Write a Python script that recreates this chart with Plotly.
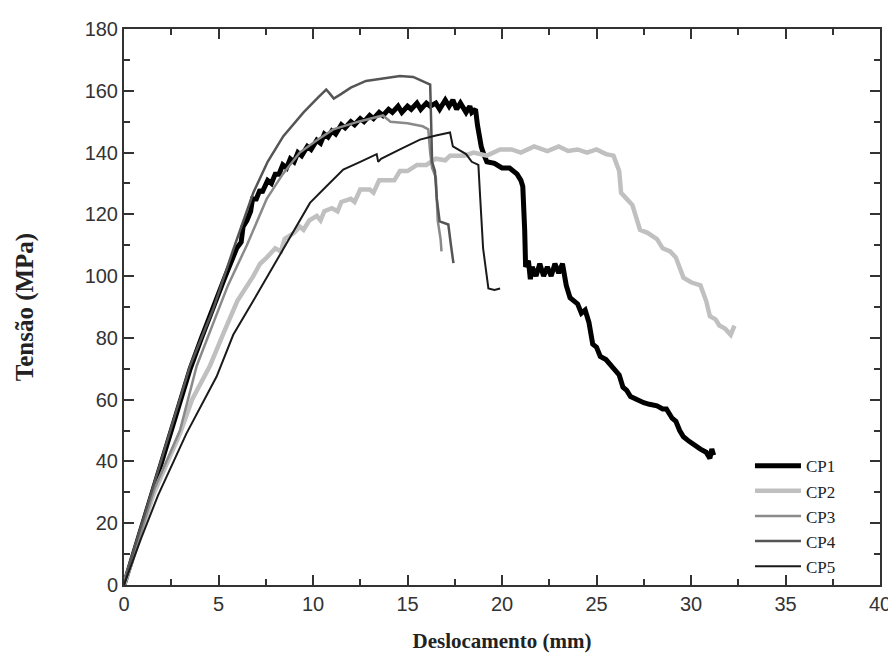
import plotly.graph_objects as go

# (displacement mm, stress MPa)
cp1 = [(0,0),(0.3,6),(0.8,16),(1.5,30),(2.4,49),(3.0,60),(3.5,70),(4.1,80),(4.7,89),(5.3,99),
       (5.96,109),(6.2,111),(6.3,116),(6.5,118),(6.7,121),(6.8,125),(7.0,125),(7.2,128),(7.3,127),
       (7.6,131),(7.8,130),(8.0,133),(8.2,133),(8.4,136),(8.6,135),(8.8,138),(9.0,137),(9.2,140),
       (9.4,139),(9.7,142),(9.9,141),(10.2,144),(10.4,143),(10.6,146),(10.8,145),(11.0,147),
       (11.2,146),(11.5,149),(11.7,148),(12.0,150),(12.2,149),(12.5,151),(12.7,150),(13.0,152),
       (13.2,151),(13.5,153),(13.7,152),(14.0,154),(14.2,153),(14.5,155),(14.7,153),(15.0,155),
       (15.2,154),(15.5,156),(15.7,154),(16.0,156),(16.2,155),(16.5,156),(16.7,154),(17.0,157),
       (17.2,155),(17.4,157),(17.6,154),(17.8,156),(18.1,153),(18.3,155),(18.4,153),(18.6,154),
       (18.7,149),(18.8,145),(18.9,142),(19.0,140),(19.2,137),(19.6,136.5),(20.0,135),(20.4,135),
       (20.8,133),(21.0,131),(21.1,129),(21.2,115),(21.25,103),(21.4,105),(21.5,99),(21.6,103),
       (21.8,100),(22.0,104),(22.2,100),(22.4,103),(22.6,100),(22.8,104),(23.0,101),(23.2,104),
       (23.4,97),(23.6,93),(23.8,92),(24.0,91),(24.2,88),(24.4,89),(24.6,85),(24.8,78),(25.0,77),
       (25.2,74),(25.5,73),(25.9,70),(26.2,68),(26.4,64),(26.6,63),(26.8,61),(27.1,60),(27.5,59),
       (27.8,58.5),(28.2,58),(28.5,57),(28.7,57),(29.0,54),(29.2,53),(29.4,50),(29.6,48),
       (29.9,46.5),(30.2,45),(30.5,44),(30.8,43),(31.0,41),(31.1,44),(31.2,42)]

cp2 = [(0,0),(0.3,6),(0.9,17),(1.6,30),(2.96,49),(3.6,60),(4.55,71),(5.3,82),(6.0,92),(6.84,100),
       (7.2,104),(7.55,106),(8.0,109),(8.3,108),(8.5,112),(9.0,114),(9.3,116),(9.5,115),(9.8,118),
       (10.2,119.5),(10.4,118),(10.6,121),(11.0,122),(11.3,121),(11.5,124),(12.0,125),(12.2,124),
       (12.5,128),(13.0,128),(13.2,127),(13.5,131),(14.0,131),(14.3,131),(14.6,134),(15.0,134),
       (15.5,136),(16.0,136),(16.5,138),(17.0,137.5),(17.25,139),(18.0,139),(18.5,140),(19.2,139),
       (19.9,141),(20.5,141),(21.0,140),(21.7,142),(22.4,140.5),(23.0,142),(23.5,140.5),(24.0,141),
       (24.5,140),(25.0,141),(25.5,139.5),(25.9,139),(26.2,134),(26.3,127),(26.6,125),(26.9,123),
       (27.1,119),(27.3,115),(27.7,114),(28.2,112),(28.5,109),(28.9,108),(29.2,106),(29.4,103),
       (29.6,99.5),(30.0,98),(30.5,97),(30.8,92),(31.0,87),(31.3,86),(31.5,84),(31.8,83),(32.1,81),
       (32.3,84)]

cp3 = [(0,0),(0.3,6),(0.9,17),(1.6,31),(2.96,50),(3.85,71),(4.8,86),(5.5,97),(6.5,110),(7.55,125),
       (8.4,133),(9.3,140),(10.2,144),(11.07,147.5),(12.4,150),(13.7,152),(14.1,150),(15.0,149.5),
       (15.8,148.5),(16.1,147.5),(16.2,140),(16.3,135),(16.5,132),(16.6,118),(16.75,112),(16.8,108)]

cp4 = [(0,0),(0.3,7),(0.8,17),(1.5,31),(2.4,49),(3.5,71),(4.7,89),(5.78,108.6),(6.84,127),
       (7.6,137),(8.43,145.3),(9.5,153),(10.3,158),(10.7,160.4),(10.9,159),(11.1,157.5),(11.5,159),
       (12.0,161),(12.8,163.2),(13.6,164),(14.6,164.8),(15.3,164.5),(15.8,163),(16.2,162),
       (16.25,150),(16.3,137),(16.45,134),(16.55,125),(16.7,117.7),(17.16,116.7),(17.3,110),
       (17.43,104.2)]

cp5 = [(0,0),(0.3,5),(0.9,15),(1.8,29),(3.3,49),(4.9,67.5),(5.78,81),(6.84,92),(8.08,105),
       (9.0,115),(9.84,123.7),(10.7,129),(11.6,134.5),(12.5,137),(13.37,139.5),(13.45,137),
       (13.6,138),(14.6,141),(15.66,144.2),(16.5,145.5),(17.25,146.5),(17.4,142),(18.1,139.5),
       (18.4,137),(18.75,136),(18.84,126),(19.0,109),(19.28,96),(19.6,95.5),(19.9,96)]

series_names = ["CP1", "CP2", "CP3", "CP4", "CP5"]
series_data = [cp1, cp2, cp3, cp4, cp5]
colors = ["#000000", "#c0c0c0", "#8a8a8a", "#555555", "#1a1a1a"]
widths = [5, 4.5, 2.5, 2.5, 2]

fig = go.Figure()
for name, data, c, w in zip(series_names, series_data, colors, widths):
    fig.add_trace(go.Scatter(
        x=[p[0] for p in data], y=[p[1] for p in data], mode="lines", name=name,
        line=dict(color=c, width=w)))

axis_common = dict(
    showline=True, linecolor="#333333", linewidth=2, mirror="ticks",
    ticks="inside", ticklen=10, tickwidth=2, tickcolor="#333333",
    showgrid=False, zeroline=False, automargin=False,
    tickfont=dict(family="Liberation Sans, Arial", size=20, color="#333333"),
)

fig.update_xaxes(range=[0, 40], dtick=5, tick0=0,
                 minor=dict(dtick=2.5, ticks="inside", ticklen=6, tickwidth=2, tickcolor="#333333"),
                 title=dict(text="<b>Deslocamento (mm)</b>", standoff=19,
                            font=dict(family="Liberation Serif, Times New Roman", size=21, color="#222222")),
                 **axis_common)
fig.update_yaxes(range=[0, 180], dtick=20, tick0=0,
                 minor=dict(dtick=10, ticks="inside", ticklen=6, tickwidth=2, tickcolor="#333333"),
                 title=dict(text="<b>Tensão (MPa)</b>", standoff=44,
                            font=dict(family="Liberation Serif, Times New Roman", size=25, color="#222222")),
                 **axis_common)

# the page body adds an 8px margin, so the figure is sized to fit the 896x664 window
fig.update_layout(
    width=888, height=656,
    margin=dict(l=116, r=16, t=21, b=79),
    plot_bgcolor="white", paper_bgcolor="white",
    showlegend=True,
    legend=dict(x=0.828, y=0.246, xanchor="left", yanchor="top",
                bgcolor="rgba(0,0,0,0)", borderwidth=0, itemwidth=46,
                font=dict(family="Liberation Serif, Times New Roman", size=17, color="#222222"),
                tracegroupgap=0),
)

fig.write_html("out.html")
